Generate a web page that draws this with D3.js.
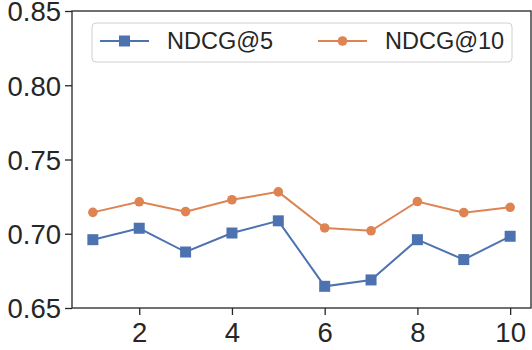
<!DOCTYPE html>
<html>
<head>
<meta charset="utf-8">
<script src="https://cdn.jsdelivr.net/npm/d3@7"></script>
<style>
  body { margin: 0; background: #fff; }
  svg text { font-family: "Liberation Sans", Arial, sans-serif; fill: #262626; }
</style>
</head>
<body>
<div id="chart"></div>
<script>
// data
const ks = [1, 2, 3, 4, 5, 6, 7, 8, 9, 10];
const ndcg5 = [0.696, 0.7037, 0.6877, 0.7005, 0.7087, 0.6646, 0.6689, 0.696, 0.6826, 0.6983];
const ndcg10 = [0.7144, 0.7215, 0.7149, 0.7229, 0.7282, 0.7039, 0.702, 0.7217, 0.7142, 0.7178];
const xTicks = [2, 4, 6, 8, 10];
const yTicks = [0.65, 0.70, 0.75, 0.80, 0.85];
const seriesNames = ["NDCG@5", "NDCG@10"];
const colors = ["#4c72b0", "#dd8452"];

const width = 532, height = 350;
const margin = { top: 11, right: 1, bottom: 42, left: 72 };
const ink = "#262626";

const svg = d3.select("#chart").append("svg")
  .attr("width", width)
  .attr("height", height);

const x = d3.scaleLinear().domain([0.55, 10.45]).range([margin.left, width - margin.right]);
const y = d3.scaleLinear().domain([0.65, 0.85]).range([height - margin.bottom, margin.top]);

// axes
const xAxis = svg.append("g")
  .attr("transform", `translate(0,${height - margin.bottom})`)
  .call(d3.axisBottom(x).tickValues(xTicks).tickSize(7).tickPadding(7).tickFormat(d3.format("d")));
const yAxis = svg.append("g")
  .attr("transform", `translate(${margin.left},0)`)
  .call(d3.axisLeft(y).tickValues(yTicks).tickSize(7).tickPadding(4).tickFormat(d3.format(".2f")));

[xAxis, yAxis].forEach(g => {
  g.select(".domain").remove();
  g.selectAll("line").attr("stroke", ink).attr("stroke-width", 1.3);
  g.selectAll("text").attr("font-size", 27.5).attr("fill", ink)
    .style("font-family", '"Liberation Sans", Arial, sans-serif');
});
yAxis.selectAll("text").attr("dy", "0.36em");
xAxis.selectAll("text").attr("dy", "0.72em");

// frame
svg.append("rect")
  .attr("x", margin.left)
  .attr("y", margin.top)
  .attr("width", width - margin.right - margin.left)
  .attr("height", height - margin.bottom - margin.top)
  .attr("fill", "none")
  .attr("stroke", ink)
  .attr("stroke-width", 1.3);

const line = d3.line().x((d, i) => x(ks[i])).y(d => y(d));

function drawSeries(vals, color, shape) {
  svg.append("path")
    .datum(vals)
    .attr("d", line)
    .attr("fill", "none")
    .attr("stroke", color)
    .attr("stroke-width", 2);
  if (shape === "square") {
    svg.selectAll(null).data(vals).join("rect")
      .attr("x", (d, i) => x(ks[i]) - 5.5)
      .attr("y", d => y(d) - 5.5)
      .attr("width", 11).attr("height", 11)
      .attr("fill", color);
  } else {
    svg.selectAll(null).data(vals).join("circle")
      .attr("cx", (d, i) => x(ks[i]))
      .attr("cy", d => y(d))
      .attr("r", 4.8)
      .attr("fill", color);
  }
}
drawSeries(ndcg5, colors[0], "square");
drawSeries(ndcg10, colors[1], "circle");

// legend
const legend = svg.append("g");
legend.append("rect")
  .attr("x", 92).attr("y", 23)
  .attr("width", 420).attr("height", 39)
  .attr("rx", 4)
  .attr("fill", "#fff").attr("fill-opacity", 0.8)
  .attr("stroke", "#d0d0d0").attr("stroke-width", 1);

const legendX = [100, 318];
seriesNames.forEach((name, i) => {
  const lx = legendX[i], ly = 41;
  legend.append("line")
    .attr("x1", lx).attr("x2", lx + 49)
    .attr("y1", ly).attr("y2", ly)
    .attr("stroke", colors[i]).attr("stroke-width", 2);
  if (i === 0) {
    legend.append("rect")
      .attr("x", lx + 24.5 - 5.5).attr("y", ly - 5.5)
      .attr("width", 11).attr("height", 11)
      .attr("fill", colors[i]);
  } else {
    legend.append("circle")
      .attr("cx", lx + 24.5).attr("cy", ly).attr("r", 4.8)
      .attr("fill", colors[i]);
  }
  legend.append("text")
    .attr("x", lx + 67).attr("y", 49.3)
    .attr("font-size", 23.5)
    .text(name);
});
</script>
</body>
</html>
